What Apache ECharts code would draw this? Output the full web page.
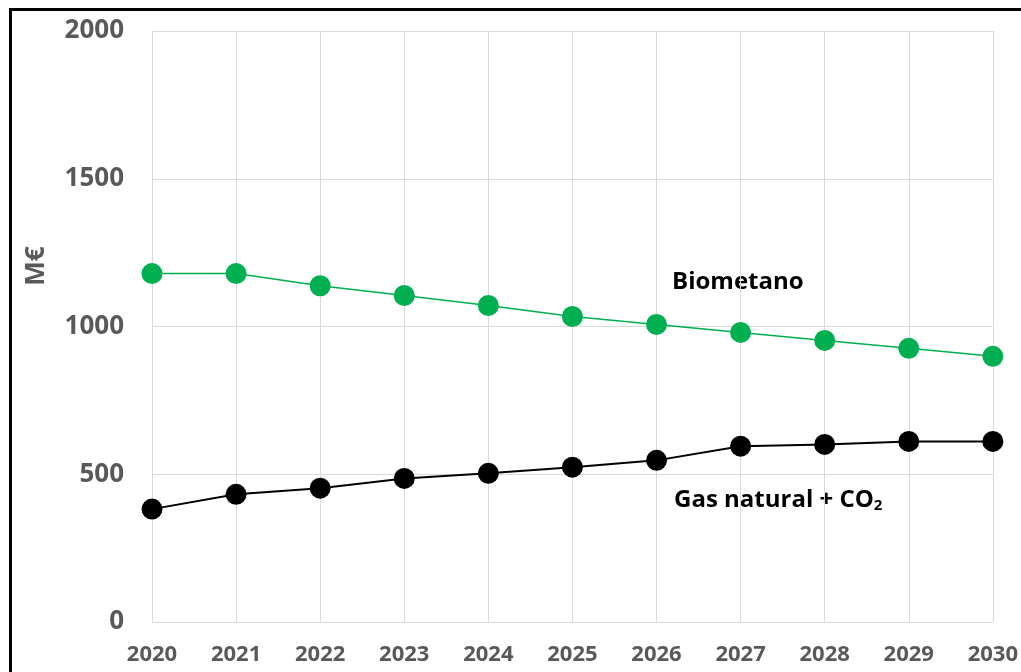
<!DOCTYPE html>
<html>
<head>
<meta charset="utf-8">
<script src="https://cdn.jsdelivr.net/npm/echarts@6/dist/echarts.min.js"></script>
<style>
  html, body { margin: 0; padding: 0; background: #fff; }
  #chart { width: 1021px; height: 672px; }
</style>
</head>
<body>
<div id="chart"></div>
<script>
const years = ['2020', '2021', '2022', '2023', '2024', '2025', '2026', '2027', '2028', '2029', '2030'];
const biometano = [1179, 1179, 1138, 1105, 1071, 1034, 1007, 980, 953, 926, 899];
const gasNatural = [382, 432, 453, 486, 503, 524, 547, 595, 601, 611, 611];
const yTicks = [0, 500, 1000, 1500, 2000];

const chart = echarts.init(document.getElementById('chart'));
const font = '"Open Sans", sans-serif';

const option = {
    animation: false,
    grid: { left: 152, right: 28, top: 31, bottom: 50 },
    xAxis: {
        type: 'category',
        data: years,
        boundaryGap: false,
        axisLine: { lineStyle: { color: '#d9d9d9', width: 1 } },
        axisTick: { show: false },
        axisLabel: {
            color: '#595959', fontFamily: font, fontWeight: 'bold', fontSize: 22, margin: 22
        },
        splitLine: { show: true, lineStyle: { color: '#d9d9d9', width: 1 } }
    },
    yAxis: {
        type: 'value',
        min: yTicks[0],
        max: yTicks[yTicks.length - 1],
        interval: 500,
        axisLine: { show: false },
        axisTick: { show: false },
        axisLabel: {
            color: '#595959', fontFamily: font, fontWeight: 'bold', fontSize: 26, margin: 28,
            formatter: (v) => String(v)
        },
        splitLine: { lineStyle: { color: '#d9d9d9', width: 1 } }
    },
    graphic: [
        {
            type: 'rect', left: 8, top: 7,
            shape: { width: 1100, height: 800 },
            style: { fill: 'none', stroke: '#000', lineWidth: 3 },
            silent: true
        },
        {
            type: 'text', x: 37, y: 266, rotation: Math.PI / 2,
            style: {
                text: 'M€', fill: '#595959', font: 'bold 26px ' + font,
                align: 'center', verticalAlign: 'middle'
            }
        },
        {
            type: 'text', x: 672, y: 282,
            style: {
                text: 'Biometano', fill: '#000', font: 'bold 24px ' + font,
                align: 'left', verticalAlign: 'middle'
            }
        },
        {
            type: 'text', x: 674, y: 500,
            style: {
                text: '{a|Gas natural + CO}{s|2}',
                align: 'left', verticalAlign: 'middle',
                rich: {
                    a: { fill: '#000', fontFamily: font, fontWeight: 'bold', fontSize: 24 },
                    s: { fill: '#000', fontFamily: font, fontWeight: 'bold', fontSize: 15, padding: [12, 0, 0, 0] }
                }
            }
        }
    ],
    series: [
        {
            name: 'Biometano',
            type: 'line',
            data: biometano,
            symbol: 'circle',
            symbolSize: 21,
            lineStyle: { color: '#00B050', width: 1.5 },
            itemStyle: { color: '#00B050' }
        },
        {
            name: 'Gas natural + CO2',
            type: 'line',
            data: gasNatural,
            symbol: 'circle',
            symbolSize: 21,
            lineStyle: { color: '#000', width: 2 },
            itemStyle: { color: '#000' }
        }
    ]
};

chart.setOption(option);
</script>
</body>
</html>
